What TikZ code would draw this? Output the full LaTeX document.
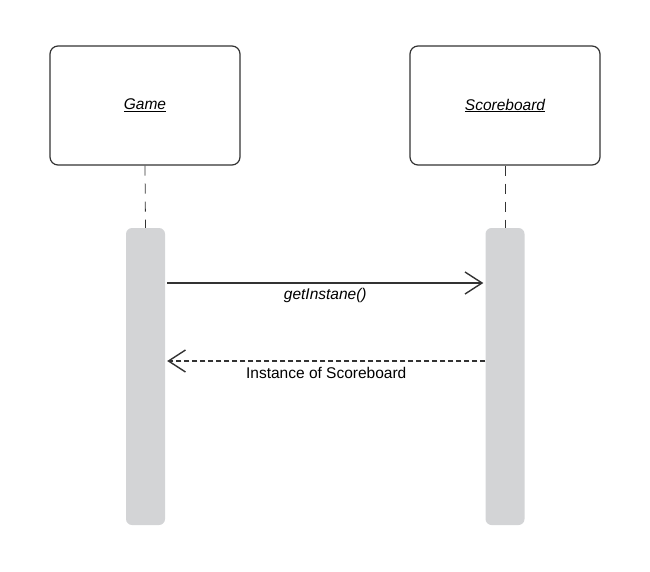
\documentclass[tikz,border=0pt]{standalone}
\usepackage{fontspec}
\setmainfont{Liberation Sans}
\usetikzlibrary{arrows.meta}
\definecolor{actgray}{HTML}{D3D4D6}
\definecolor{linegray}{HTML}{333333}
\begin{document}
\begin{tikzpicture}[x=1pt,y=-1pt,
  objbox/.style={draw=linegray, line width=1.2pt, rounded corners=8pt, minimum width=190pt, minimum height=119pt, inner sep=0pt, font=\fontsize{15.5}{17}\selectfont\itshape, fill=white},
  actbar/.style={fill=actgray, draw=none, rounded corners=6pt, minimum width=39pt, minimum height=297pt, inner sep=0pt},
  lifeline/.style={draw=linegray, line width=0.8pt, dash pattern=on 10pt off 8pt},
  msg/.style={draw=linegray, line width=1.4pt, -{Straight Barb[length=17pt,width=22pt,line width=1.4pt]}},
  retmsg/.style={msg, dash pattern=on 5pt off 3pt},
  lbl/.style={font=\fontsize{15.5}{17}\selectfont, inner sep=1pt}
]
\useasboundingbox (0,0) rectangle (650,572);
\node[objbox] (game) at (145,105.5) {\underline{Game}};
\node[objbox] (score) at (505,105.5) {\underline{Scoreboard}};
\node[actbar] (gact) at (145.5,376.5) {};
\node[actbar] (sact) at (505,376.5) {};
\draw[lifeline] (game.south) -- (gact.north);
\draw[lifeline] (score.south) -- (sact.north);
\coordinate (m1s) at ([xshift=2pt]gact.east |- 0,283);
\coordinate (m1e) at ([xshift=-2pt]sact.west |- 0,283);
\draw[msg] (m1s) -- (m1e) node[lbl, midway, below=4pt] {\itshape getInstane()};
\coordinate (m2s) at (sact.west |- 0,361);
\coordinate (m2e) at ([xshift=2pt]gact.east |- 0,361);
\draw[retmsg] (m2s) -- (m2e) node[lbl, midway, below=4.5pt] {Instance of Scoreboard};
\end{tikzpicture}
\end{document}
